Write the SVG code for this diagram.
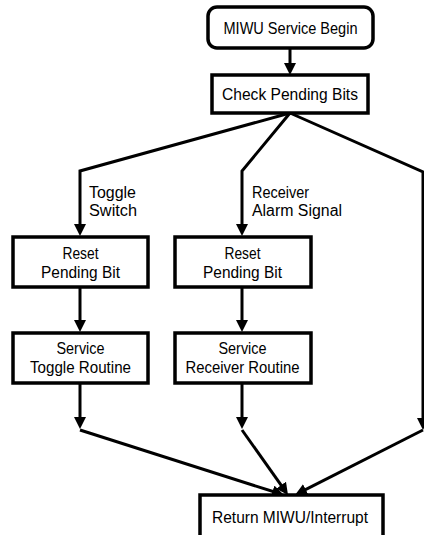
<svg xmlns="http://www.w3.org/2000/svg" width="424" height="535" viewBox="0 0 424 535">
<style>
.box{fill:#fff;stroke:#000;stroke-width:3.5}
.ln{fill:none;stroke:#000;stroke-width:3;stroke-linejoin:miter}
text{font-family:"Liberation Sans",Arial,sans-serif;font-size:16px;fill:#000}
.c{text-anchor:middle}
</style>
<defs>
<marker id="ah" viewBox="0 0 12 12" markerWidth="12" markerHeight="12" refX="8" refY="6" orient="auto" markerUnits="userSpaceOnUse">
<path d="M0,0 L12,6 L0,12 z" fill="#000"/>
</marker>
</defs>
<rect width="424" height="535" fill="#fff"/>
<g id="connectors">
<path class="ln" d="M290,48 L290,71" marker-end="url(#ah)"/>
<path class="ln" d="M290,113 L80,171 L80,232" marker-end="url(#ah)"/>
<path class="ln" d="M290,113 L242,171 L242,232" marker-end="url(#ah)"/>
<path class="ln" d="M290,113 L423,172 L423,426" marker-end="url(#ah)"/>
<path class="ln" d="M80,287 L80,328" marker-end="url(#ah)"/>
<path class="ln" d="M242,287 L242,328" marker-end="url(#ah)"/>
<path class="ln" d="M80,383 L80,425" marker-end="url(#ah)"/>
<path class="ln" d="M242,383 L242,425" marker-end="url(#ah)"/>
<path class="ln" d="M80,430 L280.2,493.8" marker-end="url(#ah)"/>
<path class="ln" d="M242,430 L285.7,491.7" marker-end="url(#ah)"/>
<path class="ln" d="M423,430 L298.6,493.2" marker-end="url(#ah)"/>
<text x="89" y="198" textLength="47" lengthAdjust="spacingAndGlyphs">Toggle</text>
<text x="89" y="216" textLength="48" lengthAdjust="spacingAndGlyphs">Switch</text>
<text x="252" y="198" textLength="57" lengthAdjust="spacingAndGlyphs">Receiver</text>
<text x="252" y="216" textLength="90" lengthAdjust="spacingAndGlyphs">Alarm Signal</text>
</g>
<g id="start">
<rect class="box" x="208" y="7" width="165" height="41" rx="9"/>
<text class="c" x="290.5" y="34" textLength="134" lengthAdjust="spacingAndGlyphs">MIWU Service Begin</text>
</g>
<g id="check">
<rect class="box" x="212" y="75" width="156" height="38"/>
<text class="c" x="290" y="100" textLength="136" lengthAdjust="spacingAndGlyphs">Check Pending Bits</text>
</g>
<g id="reset1">
<rect class="box" x="13" y="237" width="135" height="50"/>
<text class="c" x="80.5" y="259" textLength="36" lengthAdjust="spacingAndGlyphs">Reset</text>
<text class="c" x="80.5" y="278" textLength="79" lengthAdjust="spacingAndGlyphs">Pending Bit</text>
</g>
<g id="reset2">
<rect class="box" x="175" y="237" width="136" height="50"/>
<text class="c" x="242.5" y="259" textLength="36" lengthAdjust="spacingAndGlyphs">Reset</text>
<text class="c" x="242.5" y="278" textLength="79" lengthAdjust="spacingAndGlyphs">Pending Bit</text>
</g>
<g id="service1">
<rect class="box" x="13" y="333" width="135" height="50"/>
<text class="c" x="80.5" y="354" textLength="48" lengthAdjust="spacingAndGlyphs">Service</text>
<text class="c" x="80.5" y="373" textLength="101" lengthAdjust="spacingAndGlyphs">Toggle Routine</text>
</g>
<g id="service2">
<rect class="box" x="175" y="333" width="136" height="50"/>
<text class="c" x="242.5" y="354" textLength="48" lengthAdjust="spacingAndGlyphs">Service</text>
<text class="c" x="242.5" y="373" textLength="114" lengthAdjust="spacingAndGlyphs">Receiver Routine</text>
</g>
<g id="return">
<rect class="box" x="200" y="495" width="183" height="45"/>
<text class="c" x="290" y="523" textLength="156" lengthAdjust="spacingAndGlyphs">Return MIWU/Interrupt</text>
</g>
</svg>
